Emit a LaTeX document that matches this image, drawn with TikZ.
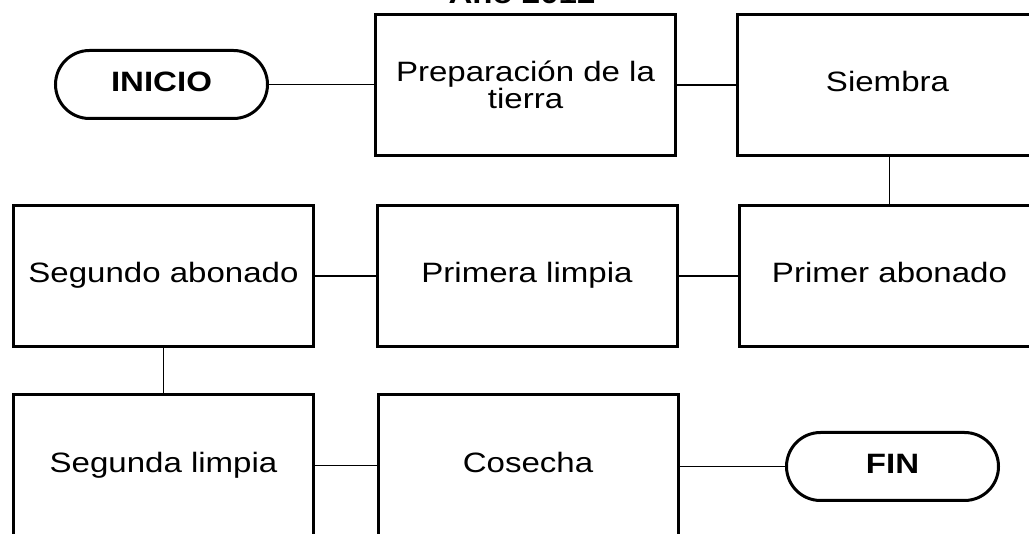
\documentclass[tikz,border=0pt]{standalone}
\usepackage{fontspec}
\setmainfont[FakeStretch=1.18]{Liberation Sans}
\begin{document}
\begin{tikzpicture}[x=1pt,y=-1pt,
  stepbox/.style={draw, line width=3pt, rectangle, minimum width=300pt, minimum height=141pt, inner sep=0pt,
    font=\fontsize{28}{21}\selectfont, text height=20pt, text depth=6pt, align=center},
  pill/.style={draw, line width=3pt, rectangle, rounded corners=34pt, minimum width=212pt, minimum height=68pt, inner sep=0pt,
    font=\fontsize{28}{21}\selectfont\bfseries, text height=20pt, text depth=6pt},
  link/.style={line width=1.5pt}]
\useasboundingbox (0,0) rectangle (1029,534);
\clip (0,0) rectangle (1029,534);
\node[anchor=base, font=\fontsize{28}{21}\selectfont\bfseries] (title) at (522,4) {Año 2012};
\node[pill] (inicio) at (161.5,84.5) {INICIO};
\node[stepbox, text height=, text depth=] (prep) at (525.5,85) {Preparación de la\\tierra};
\node[stepbox] (siem) at (887.5,85) {Siembra};
\node[stepbox] (sega) at (163.5,276) {Segundo abonado};
\node[stepbox] (prim) at (527,276) {Primera limpia};
\node[stepbox] (pab) at (889.5,276) {Primer abonado};
\node[stepbox] (segl) at (163.5,465.5) {Segunda limpia};
\node[stepbox] (cos) at (528,465.5) {Cosecha};
\node[pill] (fin) at (892.5,466.5) {FIN};
\draw[link] (inicio.east) -- (inicio.east -| prep.west);
\draw[link] (prep.east) -- (siem.west);
\draw[link] (pab.north |- siem.south) -- (pab.north);
\draw[link] (sega.east) -- (prim.west);
\draw[link] (prim.east) -- (pab.west);
\draw[link] (sega.south) -- (segl.north);
\draw[link] (segl.east) -- (cos.west);
\draw[link] (cos.east |- fin.west) -- (fin.west);
\end{tikzpicture}
\end{document}
